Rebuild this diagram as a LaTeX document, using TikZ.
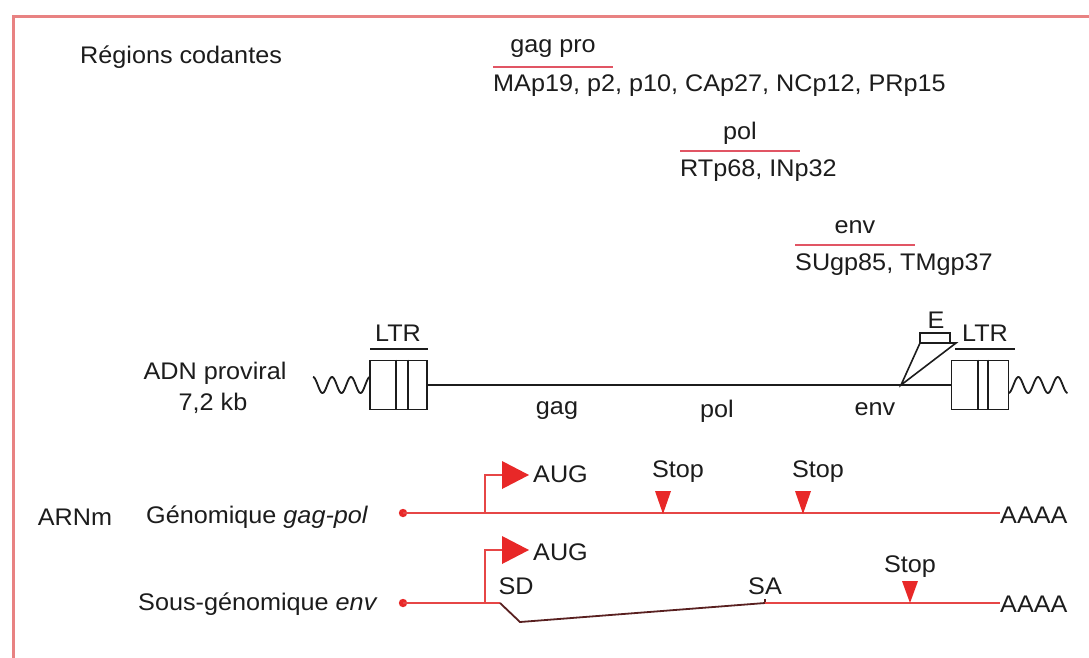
\documentclass[tikz,border=0pt]{standalone}
\usepackage{fontspec}
\setmainfont[FakeStretch=1.05]{Liberation Sans}
\definecolor{txt}{RGB}{28,28,28}
\definecolor{rnared}{RGB}{232,40,40}
\definecolor{rnaline}{RGB}{230,70,70}
\definecolor{framec}{RGB}{232,130,130}
\definecolor{ulc}{RGB}{225,85,100}
\begin{document}
\begin{tikzpicture}[x=1pt,y=-1pt,
  font=\fontsize{24}{28}\selectfont,
  every node/.style={inner sep=0pt, text=txt},
  ul/.style={ulc, line width=2.4pt},
  dna/.style={txt, line width=2.1pt},
  rna/.style={rnaline, line width=2.5pt},
  splice/.style={txt!70!rnared, line width=1.8pt},
  ltrbox/.style={draw=txt, line width=1.8pt, minimum width=57pt, minimum height=49pt, fill=white},
  redmark/.style={fill=rnared},
  wave/.style={txt, line width=1.8pt}]
\useasboundingbox (0,0) rectangle (1089,657);
\clip (0,0) rectangle (1089,657);
\fill[white] (0,0) rectangle (1089,657);
\draw[framec, line width=3pt] (13,16) rectangle (1120,700);

% coding regions
\node[anchor=west] (rc) at (80,57) {Régions codantes};
\node (gagpro) at (553,49) {gag pro};
\coordinate (gp1) at (493,67); \coordinate (gp2) at (613,67);
\draw[ul] (gp1) -- (gp2);
\node[anchor=west] (prot) at (493,86) {MAp19, p2, p10, CAp27, NCp12, PRp15};
\node (polt) at (740,133) {pol};
\coordinate (pl1) at (680,151); \coordinate (pl2) at (800,151);
\draw[ul] (pl1) -- (pl2);
\node[anchor=west] (polp) at (680,171) {RTp68, INp32};
\node (envt) at (855,227) {env};
\coordinate (el1) at (795,245); \coordinate (el2) at (915,245);
\draw[ul] (el1) -- (el2);
\node[anchor=west] (envp) at (795,265) {SUgp85, TMgp37};

% proviral DNA
\node (adn) at (215,373) {ADN proviral};
\node (kb) at (213,403) {7,2 kb};
\node[ltrbox] (ltrL) at (398.5,385) {};
\node[ltrbox] (ltrR) at (980,385) {};
\draw[dna] (ltrL.east) -- (ltrR.west);
\draw[dna] ([xshift=-2.5pt]ltrL.north) -- ([xshift=-2.5pt]ltrL.south);
\draw[dna] ([xshift=9.5pt]ltrL.north) -- ([xshift=9.5pt]ltrL.south);
\draw[dna] ([xshift=-2pt]ltrR.north) -- ([xshift=-2pt]ltrR.south);
\draw[dna] ([xshift=8pt]ltrR.north) -- ([xshift=8pt]ltrR.south);
\node (ltrLt) at (398,333) {LTR};
\node (ltrRt) at (985,333) {LTR};
\coordinate (lb1) at (370,349); \coordinate (lb2) at (428,349);
\draw[dna] (lb1) -- (lb2);
\coordinate (rb1) at (955,349); \coordinate (rb2) at (1015,349);
\draw[dna] (rb1) -- (rb2);
\draw[wave] plot[domain=0:57, samples=80] ({313+\x}, {385-8*sin(\x/19*360 - 90)*(-1)});
\draw[wave] plot[domain=0:59, samples=80] ({1008.5+\x}, {385-8*sin(\x/19.7*360 + 90)*(-1)});
% E insertion
\coordinate (eap) at (901,385);
\coordinate (el) at (920,343);
\coordinate (er) at (956,343);
\draw[dna, line width=1.6pt] (el) -- (eap) -- (er) -- cycle;
\draw[dna, line width=1.6pt, fill=white] (920,333) rectangle (950,343);
\node (E) at (936,320) {E};
\node (gagl) at (557,411) {gag};
\node (poll) at (717,411) {pol};
\node (envl) at (875,409) {env};

% mRNA
\node (arnm) at (75,517) {ARNm};
\node[anchor=west] (gen) at (146,517) {Génomique \textit{gag-pol}};
\node[anchor=west] (sous) at (138,604) {Sous-génomique \textit{env}};
\node[anchor=west] (a1) at (1000,515) {AAAA};
\node[anchor=west] (a2) at (1000,604) {AAAA};

% row 1
\coordinate (d1) at (403,513);
\fill[rnared] (d1) circle (4.2pt);
\draw[rna] (d1) -- (a1.west |- d1);
\draw[rna] (485,513) -- (485,475) -- (503,475);
\fill[redmark] (502,461) -- (529,475) -- (502,489) -- cycle;
\node[anchor=west] (aug1) at (533,474) {AUG};
\fill[redmark] (655,491) -- (671,491) -- (663,514) -- cycle;
\node (s1) at (678,472) {Stop};
\fill[redmark] (795,491) -- (811,491) -- (803,514) -- cycle;
\node (s2) at (818,472) {Stop};

% row 2
\coordinate (d2) at (403,603);
\coordinate (sd) at (500,603);
\coordinate (sdd) at (520,622);
\coordinate (sa) at (765,603);
\fill[rnared] (d2) circle (4.2pt);
\draw[rna] (d2) -- (sd);
\draw[splice] (sd) -- (sdd) -- (sa) -- ++(0,-4);
\draw[rna] (sa) -- (a2.west |- sa);
\draw[rna] (485,603) -- (485,550) -- (503,550);
\fill[redmark] (502,536) -- (529,550) -- (502,564) -- cycle;
\node[anchor=west] (aug2) at (533,552) {AUG};
\node (sdt) at (516,586) {SD};
\node (sat) at (765,586) {SA};
\fill[redmark] (902,581) -- (918,581) -- (910,603) -- cycle;
\node (s3) at (910,567) {Stop};
\end{tikzpicture}
\end{document}
